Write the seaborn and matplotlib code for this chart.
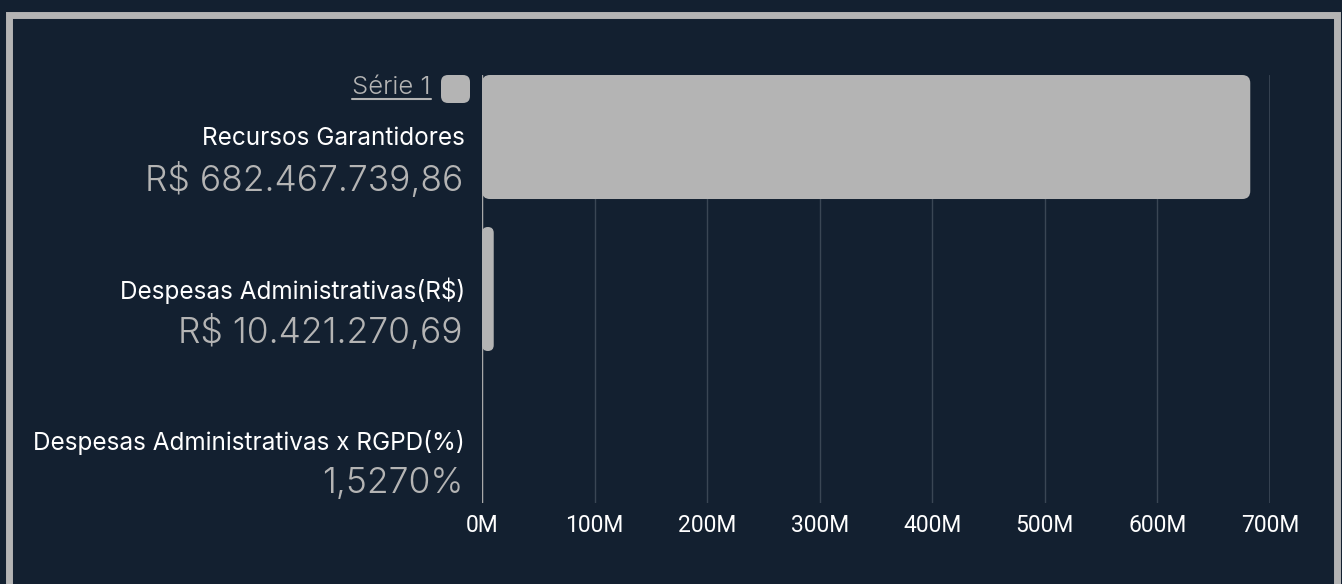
import matplotlib
matplotlib.use("Agg")
import matplotlib.pyplot as plt
from matplotlib.patches import FancyBboxPatch, Rectangle
from matplotlib.lines import Line2D
from matplotlib.transforms import IdentityTransform
import seaborn as sns
import pandas as pd

categories = ["Recursos Garantidores", "Despesas Administrativas(R$)", "Despesas Administrativas x RGPD(%)"]
values = [682467739.86, 10421270.69, 1.527]
value_labels = ["R$ 682.467.739,86", "R$ 10.421.270,69", "1,5270%"]
series_name = "Série 1"
xticks = [0, 100e6, 200e6, 300e6, 400e6, 500e6, 600e6, 700e6]
xtick_labels = ["0M", "100M", "200M", "300M", "400M", "500M", "600M", "700M"]

BG = "#132030"
BAR = "#b4b4b4"
GRID = "#3a4654"

sns.set_theme(style="dark")
plt.rcParams["font.family"] = ["Inter", "DejaVu Sans"]

W, H = 1342, 584
fig = plt.figure(figsize=(W / 100, H / 100), dpi=100, facecolor=BG)
ax = fig.add_axes([482 / W, 81 / H, 788 / W, 428 / H])
ax.set_facecolor(BG)

df = pd.DataFrame({"cat": categories, "val": values})
sns.barplot(data=df, x="val", y="cat", orient="h", color=BAR, width=0.816,
            saturation=1, ax=ax, zorder=3)

ax.set_xlim(0, 700e6)
ax.set_ylim(2.408, -0.408)
ax.set_xticks(xticks)
ax.set_xticklabels(xtick_labels, color="white", fontsize=16.5, family=["Roboto", "DejaVu Sans"])
ax.tick_params(axis="x", length=0, pad=8)
ax.set_yticks([])
ax.set_xlabel("")
ax.set_ylabel("")
for s in ax.spines.values():
    s.set_visible(False)
ax.grid(axis="x", color=GRID, lw=1, zorder=0)
ax.grid(axis="y", visible=False)
ax.axvline(0, color="#a8a8a8", lw=1, zorder=4)
ax.axvline(700e6, color=GRID, lw=2, zorder=0)

# rounded bars
fig.canvas.draw()
for p in list(ax.patches):
    x0, y0 = p.get_x(), p.get_y()
    w, h = p.get_width(), p.get_height()
    (px0, py0) = ax.transData.transform((x0, y0 + h))
    (px1, py1) = ax.transData.transform((x0 + w, y0))
    pw, ph = px1 - px0, py1 - py0
    p.remove()
    if pw < 0.5:
        continue
    r = min(8, pw / 2)
    fb = FancyBboxPatch((px0, py0), pw, ph, boxstyle=f"round,pad=0,rounding_size={r}",
                        transform=IdentityTransform(), facecolor=BAR, edgecolor="none",
                        zorder=3, figure=fig)
    fig.patches.append(fb)

# category labels
tr = ax.get_yaxis_transform()
for i, (c, v) in enumerate(zip(categories, value_labels)):
    ax.text(-17 / 788, i + 0.01, c, transform=tr, ha="right", va="center", color="white", fontsize=17.5)
    ax.text(-19 / 788, i + 0.28, v, transform=tr, ha="right", va="center", color="#b4b4b4",
            fontsize=25.5, fontweight=300)

# legend
t = fig.text(431 / W, 1 - 88 / H, series_name, ha="right", va="center", color="#b4b4b4",
             fontsize=18.5, fontweight=300)
fig.canvas.draw()
bb = t.get_window_extent()
fig.lines.append(Line2D([bb.x0, bb.x1], [H - 99, H - 99], transform=IdentityTransform(),
                        color="#b4b4b4", lw=1.5))
fig.patches.append(FancyBboxPatch((441, H - 103), 29, 28, boxstyle="round,pad=0,rounding_size=7",
                                  transform=IdentityTransform(), facecolor=BAR, edgecolor="none"))

# frame
fig.patches.append(Rectangle((8.5, -20), 1328, H - 14.5 + 20, transform=IdentityTransform(),
                             facecolor="none", edgecolor=BAR, lw=5.0))

fig.savefig("out.png", dpi=100, facecolor=BG)
